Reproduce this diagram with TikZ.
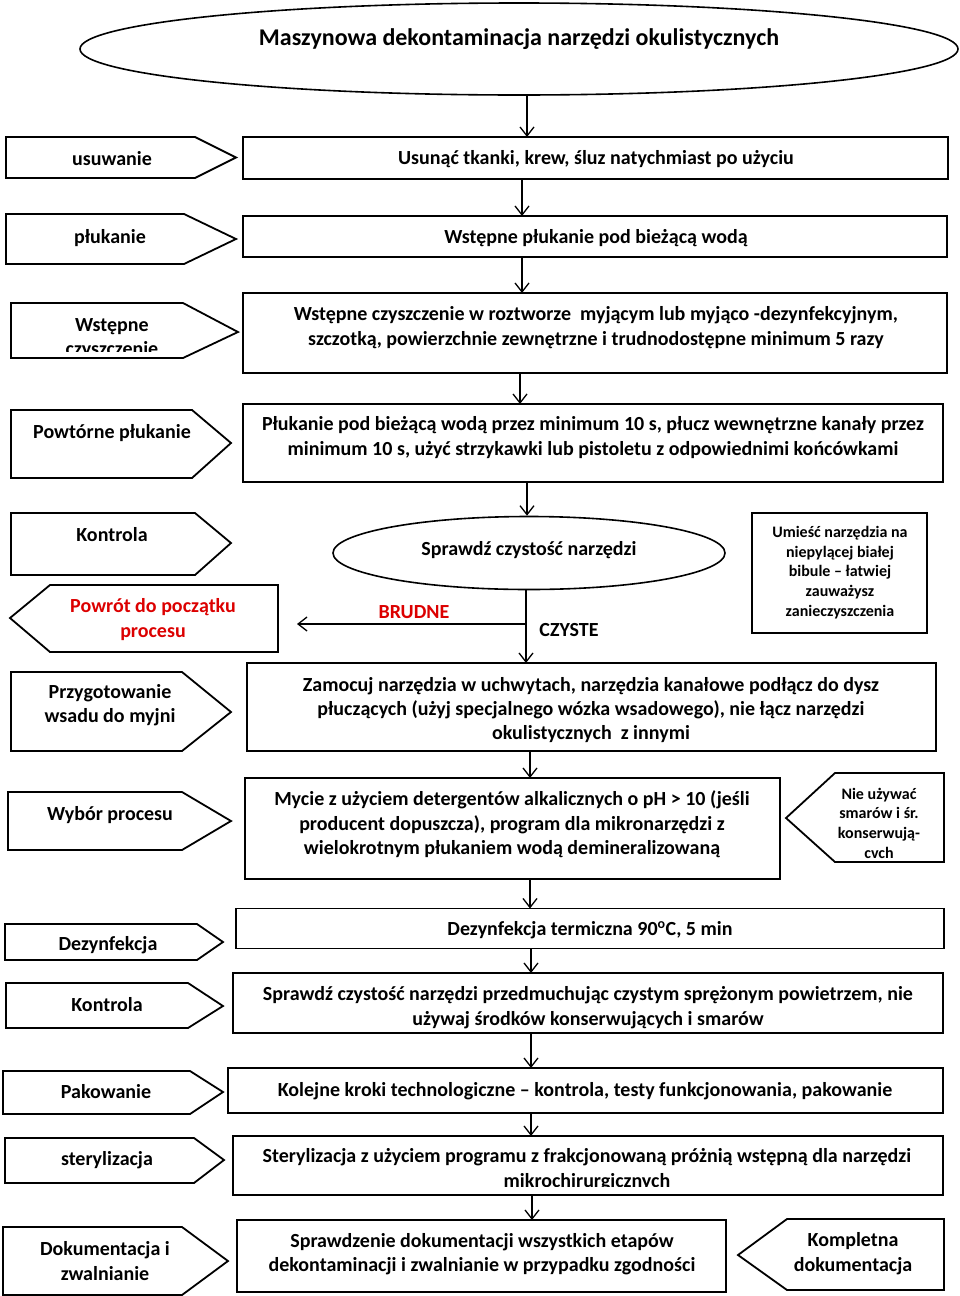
\documentclass[tikz,border=0pt]{standalone}
\usepackage{fontspec}
\setmainfont{Carlito}
\usetikzlibrary{arrows.meta,shapes.geometric,calc}
\definecolor{redtxt}{RGB}{220,0,0}
\begin{document}
\begin{tikzpicture}[x=1pt,y=-1pt,
  shp/.style={draw=black,line width=1.8pt,line join=miter},
  box/.style={draw=black,line width=1.8pt,inner sep=0pt,outer sep=0pt,rectangle},
  txt/.style={inner sep=0pt,align=center,yshift=-2pt,font=\fontsize{20}{24.4}\selectfont\bfseries},
  stxt/.style={inner sep=0pt,align=center,yshift=-2pt,font=\fontsize{16}{19.7}\selectfont\bfseries},
  arr/.style={line width=1.3pt,-{Straight Barb[length=9pt,width=14pt,line width=1.3pt]}},
  ]
\useasboundingbox (0,0) rectangle (960,1296);
\fill[white] (0,0) rectangle (960,1296);

% ---------- title
\node[draw=black,line width=1.6pt,ellipse,minimum width=878pt,minimum height=92pt,inner sep=0pt] (title) at (519,49) {};
\node[inner sep=0pt,yshift=-2pt,font=\fontsize{24}{29}\selectfont\bfseries] (titletxt) at (519,37) {Maszynowa dekontaminacja narzędzi okulistycznych};

% ---------- arrow x positions
\coordinate (x527) at (527,0);
\coordinate (x522) at (522,0);
\coordinate (x520) at (520,0);
\coordinate (x526) at (526,0);
\coordinate (x530) at (530,0);
\coordinate (x531) at (531,0);
\coordinate (x532) at (532,0);

% ---------- row 1
\draw[shp] (6,137) -- (195,137) -- (236,157.5) -- (195,178) -- (6,178) -- cycle;
\node[txt] (l1) at (112,157) {usuwanie};
\node[box,minimum width=705pt,minimum height=42pt] (r1) at (595.5,158) {};
\node[txt] (t1) at (596,157) {Usunąć tkanki, krew, śluz natychmiast po użyciu};

% ---------- row 2
\draw[shp] (6,214) -- (184,214) -- (236,239) -- (184,264) -- (6,264) -- cycle;
\node[txt] (l2) at (110,236) {płukanie};
\node[box,minimum width=704pt,minimum height=41pt] (r2) at (595,236.5) {};
\node[txt] (t2) at (596,236) {Wstępne płukanie pod bieżącą wodą};

% ---------- row 3
\draw[shp] (11,303) -- (183,303) -- (238,332) -- (183,358) -- (11,358) -- cycle;
\begin{scope}
\clip (0,290) rectangle (240,351);
\node[txt] (l3) at (112,336.5) {Wstępne\\czyszczenie};
\end{scope}
\node[box,minimum width=704pt,minimum height=80pt] (r3) at (595,333) {};
\node[txt] (t3) at (596,325.5) {Wstępne czyszczenie w roztworze\ \ myjącym lub myjąco -dezynfekcyjnym,\\szczotką, powierzchnie zewnętrzne i trudnodostępne minimum 5 razy};

% ---------- row 4
\draw[shp] (11,410) -- (192,410) -- (231,443) -- (192,478) -- (11,478) -- cycle;
\node[txt] (l4) at (112,431) {Powtórne płukanie};
\node[box,minimum width=700pt,minimum height=78pt] (r4) at (593,443) {};
\node[txt] (t4) at (593,435.5) {Płukanie pod bieżącą wodą przez minimum 10 s, płucz wewnętrzne kanały przez\\minimum 10 s, użyć strzykawki lub pistoletu z odpowiednimi końcówkami};

% ---------- row 5 (control)
\draw[shp] (11,513) -- (195,513) -- (231,543) -- (195,575) -- (11,575) -- cycle;
\node[txt] (l5) at (112,533) {Kontrola};
\draw[shp] (10,618) -- (50,585) -- (278,585) -- (278,652) -- (50,652) -- cycle;
\node[txt,text=redtxt] (back) at (153,617.5) {Powrót do początku\\procesu};
\node[draw=black,line width=1.6pt,ellipse,minimum width=392pt,minimum height=73pt,inner sep=0pt] (chk) at (529,553) {};
\node[txt] (chktxt) at (529,548) {Sprawdź czystość narzędzi};
\node[box,minimum width=175pt,minimum height=120pt] (note1) at (839.5,573) {};
\node[stxt] (note1txt) at (840,570.5) {Umieść narzędzia na\\niepylącej białej\\bibule – łatwiej\\zauważysz\\zanieczyszczenia};
\node[txt,text=redtxt] (brudne) at (414,610) {BRUDNE};
\node[txt] (czyste) at (569,628) {CZYSTE};

% ---------- row 6
\draw[shp] (11,672) -- (182,672) -- (231,712) -- (182,751) -- (11,751) -- cycle;
\node[txt] (l6) at (110,703) {Przygotowanie\\wsadu do myjni};
\node[box,minimum width=689pt,minimum height=88pt] (r6) at (591.5,707) {};
\node[txt] (t6) at (591,708) {Zamocuj narzędzia w uchwytach, narzędzia kanałowe podłącz do dysz\\płuczących (użyj specjalnego wózka wsadowego), nie łącz narzędzi\\okulistycznych\ \ z innymi};

% ---------- row 7
\draw[shp] (8,792) -- (182,792) -- (231,821) -- (182,850) -- (8,850) -- cycle;
\node[txt] (l7) at (110,813) {Wybór procesu};
\node[box,minimum width=535pt,minimum height=101pt] (r7) at (512.5,828.5) {};
\node[txt] (t7) at (512,822.5) {Mycie z użyciem detergentów alkalicznych o pH > 10 (jeśli\\producent dopuszcza), program dla mikronarzędzi z\\wielokrotnym płukaniem wodą demineralizowaną};
\draw[shp] (786,818) -- (835,773) -- (944,773) -- (944,862) -- (835,862) -- cycle;
\node[stxt] (note2) at (879,821) {Nie używać\\smarów i śr.\\konserwują-\\cvch};

% ---------- row 8
\draw[shp] (5,924) -- (197,924) -- (223,942) -- (197,960) -- (5,960) -- cycle;
\node[txt] (l8) at (108,943) {Dezynfekcja};
\node[box,minimum width=708pt,minimum height=40pt] (r8) at (590,928.5) {};
\node[txt] (t8) at (590,928) {Dezynfekcja termiczna 90\textsuperscript{o}C, 5 min};

% ---------- row 9
\draw[shp] (6,983) -- (188,983) -- (223,1006) -- (188,1028) -- (6,1028) -- cycle;
\node[txt] (l9) at (107,1003) {Kontrola};
\node[box,minimum width=710pt,minimum height=60pt] (r9) at (588,1003) {};
\node[txt] (t9) at (588,1005.5) {Sprawdź czystość narzędzi przedmuchując czystym sprężonym powietrzem, nie\\używaj środków konserwujących i smarów};

% ---------- row 10
\draw[shp] (3,1071) -- (190,1071) -- (223,1092) -- (190,1114) -- (3,1114) -- cycle;
\node[txt] (l10) at (106,1090) {Pakowanie};
\node[box,minimum width=715pt,minimum height=45pt] (r10) at (585.5,1090.5) {};
\node[txt] (t10) at (585,1089) {Kolejne kroki technologiczne – kontrola, testy funkcjonowania, pakowanie};

% ---------- row 11
\draw[shp] (5,1138) -- (194,1138) -- (224,1160) -- (194,1183) -- (5,1183) -- cycle;
\node[txt] (l11) at (107,1158) {sterylizacja};
\begin{scope}
\clip (235,1130) rectangle (942,1186);
\node[txt] (t11) at (587,1167.5) {Sterylizacja z użyciem programu z frakcjonowaną próżnią wstępną dla narzędzi\\mikrochirurgicznych};
\end{scope}
\node[box,minimum width=710pt,minimum height=59pt] (r11) at (588,1165.5) {};

% ---------- row 12
\draw[shp] (3,1227) -- (182,1227) -- (228,1261) -- (182,1295) -- (3,1295) -- cycle;
\node[txt] (l12) at (105,1259) {Dokumentacja i\\zwalnianie};
\node[box,minimum width=489pt,minimum height=72pt] (r12) at (481.5,1256) {};
\node[txt] (t12) at (482,1252) {Sprawdzenie dokumentacji wszystkich etapów\\dekontaminacji i zwalnianie w przypadku zgodności};
\draw[shp] (738,1255) -- (787,1219) -- (944,1219) -- (944,1290) -- (787,1290) -- cycle;
\node[txt] (komp) at (853,1251.5) {Kompletna\\dokumentacja};

% ---------- connectors
\draw[arr] (title.south -| x527) -- (r1.north -| x527);
\draw[arr] (r1.south -| x522) -- (r2.north -| x522);
\draw[arr] (r2.south -| x522) -- (r3.north -| x522);
\draw[arr] (r3.south -| x520) -- (r4.north -| x520);
\draw[arr] (r4.south -| x527) -- (chk.north -| x527);
\draw[arr] (chk.south -| x526) -- (r6.north -| x526);
\coordinate (brStart) at (526,624);
\coordinate (brEnd) at (297,624);
\draw[arr] (brStart) -- (brEnd);
\draw[arr] (r6.south -| x530) -- (r7.north -| x530);
\draw[arr] (r7.south -| x530) -- (r8.north -| x530);
\draw[arr] (r8.south -| x531) -- (r9.north -| x531);
\draw[arr] (r9.south -| x531) -- (r10.north -| x531);
\draw[arr] (r10.south -| x531) -- (r11.north -| x531);
\draw[arr] (r11.south -| x532) -- (r12.north -| x532);
\end{tikzpicture}
\end{document}
